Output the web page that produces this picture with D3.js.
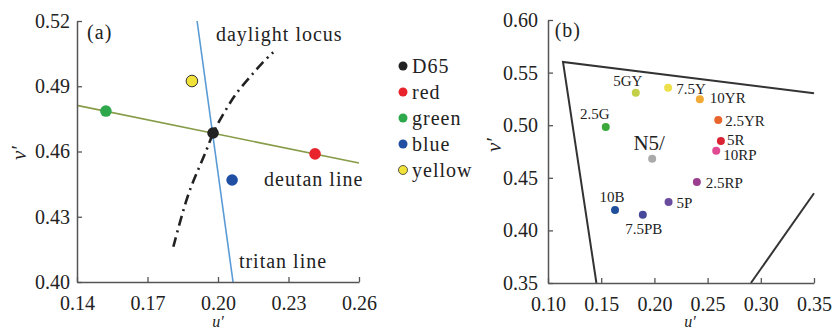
<!DOCTYPE html>
<html>
<head>
<meta charset="utf-8">
<script src="https://cdn.jsdelivr.net/npm/d3@7"></script>
<style>
  body { margin: 0; background: #fff; }
  svg { display: block; }
  text { font-family: "Liberation Serif", "Times New Roman", serif; fill: #222; }
</style>
</head>
<body>
<svg id="chart" width="832" height="331"></svg>
<script>
// ---- panel (a) data ----
const aNames = ["D65", "red", "green", "blue", "yellow"];
const aU = [0.1979, 0.2413, 0.1523, 0.2060, 0.1889];
const aV = [0.4685, 0.4589, 0.4786, 0.4469, 0.4924];
const aColors = ["#222222", "#e8232b", "#2ea84a", "#1f4ea2", "#f1e23a"];

const deutanU = [0.14, 0.26];
const deutanV = [0.4812, 0.4547];
const tritanU = [0.1911, 0.2064];
const tritanV = [0.52, 0.40];

const daylightU = [0.1810, 0.1867, 0.1909, 0.1952, 0.1980, 0.2016, 0.2058, 0.2094, 0.2150, 0.2186, 0.2235];
const daylightV = [0.4162, 0.4392, 0.4500, 0.4607, 0.4691, 0.4760, 0.4837, 0.4891, 0.4960, 0.5006, 0.5056];

const aXTicks = [0.14, 0.17, 0.20, 0.23, 0.26];
const aYTicks = [0.40, 0.43, 0.46, 0.49, 0.52];

// ---- panel (b) data ----
const bNames = ["5GY", "7.5Y", "10YR", "2.5YR", "5R", "10RP", "2.5RP", "5P", "7.5PB", "10B", "2.5G", "N5/"];
const bU = [0.1825, 0.2129, 0.2427, 0.2600, 0.2625, 0.2581, 0.2399, 0.2133, 0.1891, 0.1630, 0.1543, 0.1979];
const bV = [0.5309, 0.5357, 0.5246, 0.5049, 0.4850, 0.4758, 0.4460, 0.4270, 0.4149, 0.4194, 0.4983, 0.4682];
const bColors = ["#c4cf48", "#eee04a", "#f0aa35", "#e8652c", "#da2330", "#e04a93", "#9c3e8f", "#6a4c9f", "#46489a", "#1f4f9b", "#3aa93a", "#aaaaaa"];

const locusLeftU = [0.1455, 0.1141, 0.35];
const locusLeftV = [0.35, 0.5601, 0.5303];
const locusRightU = [0.2907, 0.35];
const locusRightV = [0.35, 0.4353];

const bXTicks = [0.10, 0.15, 0.20, 0.25, 0.30, 0.35];
const bYTicks = [0.35, 0.40, 0.45, 0.50, 0.55, 0.60];

// label placement for panel (b): [dx, dy, anchor]
const bLabelPlace = {
  "5GY": [-8, -7, "middle"], "7.5Y": [8, 6, "start"], "10YR": [10, 4, "start"],
  "2.5YR": [7, 6, "start"], "5R": [6, 4, "start"], "10RP": [7, 9, "start"],
  "2.5RP": [9, 6, "start"], "5P": [8, 6, "start"], "7.5PB": [1, 19, "middle"],
  "10B": [-3, -8, "middle"], "2.5G": [-11, -8, "middle"], "N5/": [-3, -9, "middle"]
};

const svg = d3.select("#chart");
const fmt = d3.format(".2f");

function styleAxis(g) {
  g.select(".domain").attr("stroke", "#555").attr("stroke-width", 1.5);
  g.selectAll(".tick line").attr("stroke", "#555").attr("stroke-width", 1.3);
  g.selectAll(".tick text")
    .attr("font-family", "'Liberation Serif', 'Times New Roman', serif")
    .attr("font-size", "20px")
    .attr("fill", "#222");
}

// ================= panel (a) =================
const xa = d3.scaleLinear().domain([0.14, 0.26]).range([77, 359]);
const ya = d3.scaleLinear().domain([0.40, 0.52]).range([282, 21]);

const ga = svg.append("g");

// deutan line
ga.append("line")
  .attr("x1", xa(deutanU[0])).attr("y1", ya(deutanV[0]))
  .attr("x2", xa(deutanU[1])).attr("y2", ya(deutanV[1]))
  .attr("stroke", "#869c48").attr("stroke-width", 1.6);

// tritan line
ga.append("line")
  .attr("x1", xa(tritanU[0])).attr("y1", ya(tritanV[0]))
  .attr("x2", xa(tritanU[1])).attr("y2", ya(tritanV[1]))
  .attr("stroke", "#5b9bd5").attr("stroke-width", 1.6);

// daylight locus
const daylight = daylightU.map((u, i) => [u, daylightV[i]]);
ga.append("path")
  .datum(daylight)
  .attr("d", d3.line().x(d => xa(d[0])).y(d => ya(d[1])).curve(d3.curveBasis))
  .attr("fill", "none")
  .attr("stroke", "#222")
  .attr("stroke-width", 2.6)
  .attr("stroke-dasharray", "10,5,2,5");

// axes
ga.append("g")
  .attr("transform", "translate(0,282)")
  .call(d3.axisBottom(xa).tickValues(aXTicks).tickFormat(fmt).tickSize(-5).tickSizeOuter(0).tickPadding(14))
  .call(styleAxis);
ga.append("g")
  .attr("transform", "translate(77,0)")
  .call(d3.axisLeft(ya).tickValues(aYTicks).tickFormat(fmt).tickSize(-5).tickSizeOuter(0).tickPadding(7))
  .call(styleAxis);

// points
const aPoints = aNames.map((n, i) => ({ name: n, u: aU[i], v: aV[i], color: aColors[i] }));
ga.selectAll(".pa")
  .data(aPoints)
  .join("circle")
  .attr("class", "pa")
  .attr("cx", d => xa(d.u))
  .attr("cy", d => ya(d.v))
  .attr("r", 5.8)
  .attr("fill", d => d.color)
  .attr("stroke", d => d.name === "yellow" ? "#333" : "none")
  .attr("stroke-width", 1);

// annotations
const aText = [
  { t: "(a)", u: 0.1443, v: 0.5117 },
  { t: "daylight locus", u: 0.1991, v: 0.5106 },
  { t: "deutan line", u: 0.2196, v: 0.4443 },
  { t: "tritan line", u: 0.2089, v: 0.4066 }
];
ga.selectAll(".ann")
  .data(aText)
  .join("text")
  .attr("class", "ann")
  .attr("x", d => xa(d.u))
  .attr("y", d => ya(d.v))
  .attr("font-size", "20px")
  .attr("letter-spacing", "1px")
  .text(d => d.t);

// axis titles
ga.append("text")
  .attr("transform", "translate(26,153) rotate(-90)")
  .attr("text-anchor", "middle")
  .attr("font-size", "21px")
  .attr("font-style", "italic")
  .text("v′");
ga.append("text")
  .attr("x", 218).attr("y", 327)
  .attr("text-anchor", "middle")
  .attr("font-size", "16px")
  .attr("font-style", "italic")
  .text("u′");

// legend
const legY = d3.scalePoint().domain(aNames).range([66, 170]);
const leg = svg.append("g");
leg.selectAll("circle")
  .data(aPoints)
  .join("circle")
  .attr("cx", 403)
  .attr("cy", d => legY(d.name))
  .attr("r", 4.5)
  .attr("fill", d => d.color)
  .attr("stroke", d => d.name === "yellow" ? "#333" : "none")
  .attr("stroke-width", 0.8);
leg.selectAll("text")
  .data(aPoints)
  .join("text")
  .attr("x", 412)
  .attr("y", d => legY(d.name))
  .attr("dy", "0.35em")
  .attr("font-size", "20px")
  .attr("letter-spacing", "1px")
  .text(d => d.name);

// ================= panel (b) =================
const xb = d3.scaleLinear().domain([0.10, 0.35]).range([548, 814]);
const yb = d3.scaleLinear().domain([0.35, 0.60]).range([283, 20]);

const gb = svg.append("g");

const lineB = d3.line().x(d => xb(d[0])).y(d => yb(d[1]));
gb.append("path")
  .datum(locusLeftU.map((u, i) => [u, locusLeftV[i]]))
  .attr("d", lineB)
  .attr("fill", "none").attr("stroke", "#333").attr("stroke-width", 2);
gb.append("path")
  .datum(locusRightU.map((u, i) => [u, locusRightV[i]]))
  .attr("d", lineB)
  .attr("fill", "none").attr("stroke", "#333").attr("stroke-width", 2);

gb.append("g")
  .attr("transform", "translate(0,283)")
  .call(d3.axisBottom(xb).tickValues(bXTicks).tickFormat(fmt).tickSize(-5).tickSizeOuter(0).tickPadding(14))
  .call(styleAxis);
gb.append("g")
  .attr("transform", "translate(548,0)")
  .call(d3.axisLeft(yb).tickValues(bYTicks).tickFormat(fmt).tickSize(-5).tickSizeOuter(0).tickPadding(10))
  .call(styleAxis);

const bPoints = bNames.map((n, i) => ({ name: n, u: bU[i], v: bV[i], color: bColors[i] }));
gb.selectAll(".pb")
  .data(bPoints)
  .join("circle")
  .attr("class", "pb")
  .attr("cx", d => xb(d.u))
  .attr("cy", d => yb(d.v))
  .attr("r", 4)
  .attr("fill", d => d.color);

gb.selectAll(".lb")
  .data(bPoints)
  .join("text")
  .attr("class", "lb")
  .attr("x", d => xb(d.u) + bLabelPlace[d.name][0])
  .attr("y", d => yb(d.v) + bLabelPlace[d.name][1])
  .attr("text-anchor", d => bLabelPlace[d.name][2])
  .attr("font-size", d => d.name === "N5/" ? "21px" : "15px")
  .text(d => d.name);

gb.append("text")
  .attr("x", xb(0.1063)).attr("y", yb(0.5838))
  .attr("font-size", "20px")
  .attr("letter-spacing", "1px")
  .text("(b)");

gb.append("text")
  .attr("transform", "translate(501,145) rotate(-90)")
  .attr("text-anchor", "middle")
  .attr("font-size", "21px")
  .attr("font-style", "italic")
  .text("v′");
gb.append("text")
  .attr("x", 690).attr("y", 327)
  .attr("text-anchor", "middle")
  .attr("font-size", "16px")
  .attr("font-style", "italic")
  .text("u′");
</script>
</body>
</html>
